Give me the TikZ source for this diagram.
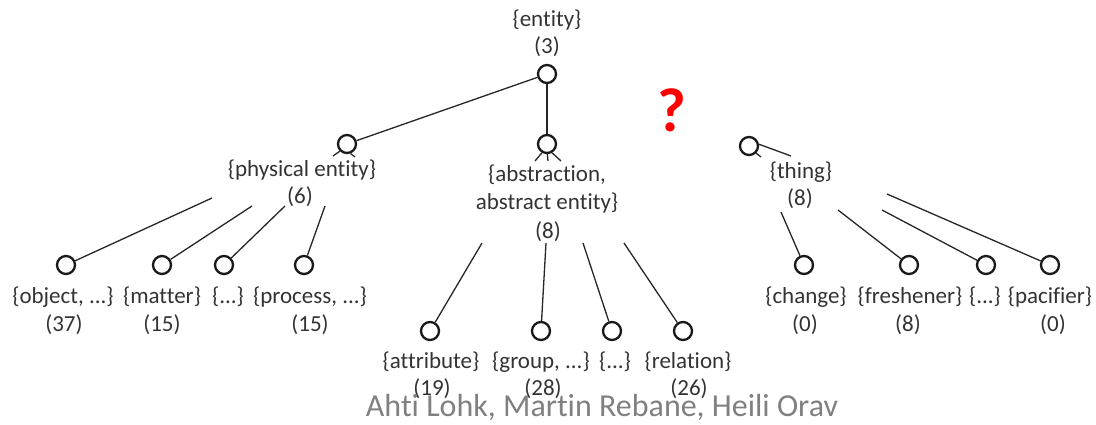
\documentclass[tikz,border=0pt]{standalone}
\usepackage{fontspec}
\setmainfont[RawFeature=-liga]{Carlito}
\begin{document}
\begin{tikzpicture}[x=1pt,y=-1pt,
  lbl/.style={inner sep=0pt,text=black!80,font=\fontsize{23}{26}\selectfont,align=center},
  dot/.style={circle,draw=black!90,line width=2.3pt,minimum size=18pt,inner sep=0pt},
  edge/.style={draw=black!85,line width=1.3pt},
  stub/.style={draw=black!85,line width=1.3pt}]
\useasboundingbox (0,0) rectangle (1096,424);
% root
\node[lbl] (entity) at (547,20) {\{entity\}};
\node[lbl] (entityn) at (547,47) {(3)};
\node[dot] (oent) at (547,74) {};
% level 1
\node[dot] (ophys) at (347,144) {};
\node[lbl] (phys) at (302,170) {\{physical entity\}};
\node[lbl] (physn) at (300,197) {(6)};
\node[dot] (oabs) at (547,144) {};
\node[lbl] (abs1) at (547,175) {\{abstraction,};
\node[lbl] (abs2) at (547,203) {abstract entity\}};
\node[lbl] (absn) at (548,232) {(8)};
\node[dot] (othing) at (749,146) {};
\node[lbl] (thing) at (801,172) {\{thing\}};
\node[lbl] (thingn) at (800,199) {(8)};
\node[text=red,font=\bfseries\fontsize{62}{64}\selectfont,inner sep=0pt] (q) at (672,110) {?};
\draw[edge] (oent) -- (ophys);
\draw[edge] (oent) -- (oabs);
% stubs
\coordinate (sp1) at (333,156); \coordinate (sp2) at (355,157);
\draw[stub] (ophys.225) -- (sp1);
\draw[stub] (ophys.290) -- (sp2);
\coordinate (sa1) at (535,161); \coordinate (sa2) at (548,161); \coordinate (sa3) at (561,161);
\draw[stub] (oabs.240) -- (sa1);
\draw[stub] (oabs.272) -- (sa2);
\draw[stub] (oabs.300) -- (sa3);
\coordinate (st1) at (791,156); \coordinate (st2) at (761,157);
\draw[stub] (othing.10) -- (st1);
\draw[stub] (othing.315) -- (st2);
% physical children
\node[dot] (o1) at (66,265) {};
\node[dot] (o2) at (162,265) {};
\node[dot] (o3) at (224,265) {};
\node[dot] (o4) at (304,265) {};
\node[lbl] (l1) at (63,297) {\{object, ...\}};
\node[lbl] (l2) at (162,297) {\{matter\}};
\node[lbl] (l3) at (228,297) {\{...\}};
\node[lbl] (l4) at (310,297) {\{process, ...\}};
\node[lbl] (n1) at (64,325) {(37)};
\node[lbl] (n2) at (162,325) {(15)};
\node[lbl] (n4) at (310,325) {(15)};
\coordinate (p1) at (212,198); \coordinate (p2) at (252,206);
\coordinate (p3) at (285,206); \coordinate (p4) at (325,206);
\draw[edge] (p1) -- (o1);
\draw[edge] (p2) -- (o2);
\draw[edge] (p3) -- (o3);
\draw[edge] (p4) -- (o4);
% abstraction children
\node[dot] (a1) at (430,331) {};
\node[dot] (a2) at (541,331) {};
\node[dot] (a3) at (612,331) {};
\node[dot] (a4) at (683,331) {};
\node[lbl] (m1) at (431,362) {\{attribute\}};
\node[lbl] (m2) at (541,362) {\{group, ...\}};
\node[lbl] (m3) at (615,362) {\{...\}};
\node[lbl] (m4) at (688,362) {\{relation\}};
\node[lbl] (k1) at (432,389) {(19)};
\node[lbl] (k2) at (543,389) {(28)};
\node[lbl] (k4) at (689,389) {(26)};
\coordinate (q1) at (482,243); \coordinate (q2) at (546,243);
\coordinate (q3) at (583,243); \coordinate (q4) at (624,243);
\draw[edge] (q1) -- (a1);
\draw[edge] (q2) -- (a2);
\draw[edge] (q3) -- (a3);
\draw[edge] (q4) -- (a4);
% thing children
\node[dot] (t1) at (804,265) {};
\node[dot] (t2) at (909,265) {};
\node[dot] (t3) at (986,265) {};
\node[dot] (t4) at (1050,265) {};
\node[lbl] (u1) at (806,297) {\{change\}};
\node[lbl] (u2) at (910,297) {\{freshener\}};
\node[lbl] (u3) at (985,297) {\{...\}};
\node[lbl] (u4) at (1050,297) {\{pacifier\}};
\node[lbl] (v1) at (805,325) {(0)};
\node[lbl] (v2) at (908,325) {(8)};
\node[lbl] (v4) at (1053,325) {(0)};
\coordinate (r1) at (781,212); \coordinate (r2) at (838,210);
\coordinate (r3) at (882,210); \coordinate (r4) at (887,194);
\draw[edge] (r1) -- (t1);
\draw[edge] (r2) -- (t2);
\draw[edge] (r3) -- (t3);
\draw[edge] (r4) -- (t4);
% footer
\node[text=black!50,font=\fontsize{32}{34}\selectfont,inner sep=0pt] (foot) at (602,407) {Ahti Lohk, Martin Rebane, Heili Orav};
\end{tikzpicture}
\end{document}
